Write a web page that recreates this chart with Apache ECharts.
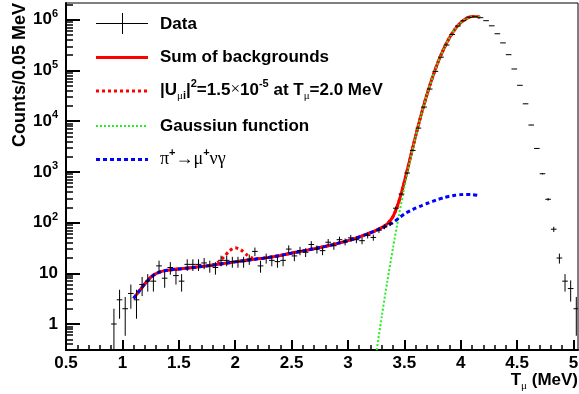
<!DOCTYPE html>
<html><head><meta charset="utf-8">
<script src="https://cdn.jsdelivr.net/npm/echarts@6/dist/echarts.min.js"></script>
<style>html,body{margin:0;padding:0;background:#fff}#c{width:579px;height:394px}</style>
</head><body><div id="c"></div>
<script>
// ---- data (counts per 0.05 MeV bin) ----
const binCenters = [0.925,0.975,1.025,1.075,1.125,1.175,1.225,1.275,1.325,1.375,1.425,1.475,1.525,1.575,1.625,1.675,1.725,1.775,1.825,1.875,1.925,1.975,2.025,2.075,2.125,2.175,2.225,2.275,2.325,2.375,2.425,2.475,2.525,2.575,2.625,2.675,2.725,2.775,2.825,2.875,2.925,2.975,3.025,3.075,3.125,3.175,3.225,3.275,3.325,3.375,3.425,3.475,3.525,3.575,3.625,3.675,3.725,3.775,3.825,3.875,3.925,3.975,4.025,4.075,4.125,4.175,4.225,4.275,4.325,4.375,4.425,4.475,4.525,4.575,4.625,4.675,4.725,4.775,4.825,4.875,4.925,4.975,5.025];
const counts = [1,3,2,4,3,6,7,7,14,8,13,9,7,15,15,15,16,14,13,18,18,17,17,17,19,27,14,20,18,17,18,30,22,28,26,37,30,28,41,35,46,42,50,46,44,56,51,71,83,95,192,365,950,2650,7300,19000,43000,96000,183000,318000,513000,754000,960000,1120000,1150000,1100000,960000,760000,530000,350000,205000,107000,51000,22000,8400,2900,920,288,74,20,7,5,2];

// ---- fitted curves ----
const curveX = [1.10,1.15,1.20,1.25,1.30,1.35,1.40,1.45,1.50,1.55,1.60,1.65,1.70,1.75,1.80,1.85,1.90,1.95,2.00,2.05,2.10,2.15,2.20,2.25,2.30,2.35,2.40,2.45,2.50,2.55,2.60,2.65,2.70,2.75,2.80,2.85,2.90,2.95,3.00,3.05,3.10,3.15,3.20,3.25,3.30,3.35,3.40,3.45,3.50,3.55,3.60,3.65,3.70,3.75,3.80,3.85,3.90,3.95,4.00,4.05,4.10,4.15,4.17];
const radiativeY = [3.2,4.5,6.2,8.3,9.9,10.9,11.5,11.9,12.2,12.5,12.8,13.2,13.6,14.0,14.5,15.0,15.6,16.2,16.8,17.4,18.0,18.6,19.3,19.9,20.6,21.5,22.5,23.7,25.0,26.2,27.5,29.0,30.5,32.2,34.0,36.0,38.5,41.0,44.0,47.5,52,57,63,70,78,88,100,122,148,170,192,214,238,262,287,310,330,346,356,360,357,346,340];
const sumBkgY = [3.2,4.5,6.2,8.3,9.9,10.9,11.5,11.9,12.2,12.5,12.8,13.2,13.6,14.0,14.5,15.0,15.6,16.2,16.8,17.4,18.0,18.6,19.3,19.9,20.6,21.5,22.5,23.7,25.0,26.2,27.5,29.0,30.5,32.2,34.0,36.0,38.5,41.0,44.0,47.5,52,57,63,70.3,79.4,95.1,132,254,635,1795,5092,13614,33238,73562,148287,268310,441330,654346,877356,1064360,1164357,1154346,1117340];
const withSignalY = [3.2,4.5,6.2,8.3,9.9,10.9,11.5,11.9,12.2,12.5,12.8,13.2,13.6,14.0,14.5,16.5,21.0,27.8,31.8,29.0,23.4,20.1,19.5,19.9,20.6,21.5,22.5,23.7,25.0,26.2,27.5,29.0,30.5,32.2,34.0,36.0,38.5,41.0,44.0,47.5,52,57,63,70.3,79.4,95.1,132,254,635,1795,5092,13614,33238,73562,148287,268310,441330,654346,877356,1064360,1164357,1154346,1117340];
const gaussX = [3.25,3.30,3.35,3.40,3.45,3.50,3.55,3.60,3.65,3.70,3.75,3.80,3.85,3.90,3.95,4.00,4.05,4.10,4.15,4.17];
const gaussY = [0.256,1.42,7.1,32.2,132,487,1625,4900,13400,33000,73300,148000,268000,441000,654000,877000,1064000,1164000,1154000,1117000];

// ---- axes ----
const xMajorTicks = [0.5,1,1.5,2,2.5,3,3.5,4,4.5,5];
const yDecadeLabels = ['1','10','10{sup|2}','10{sup|3}','10{sup|4}','10{sup|5}','10{sup|6}'];
const xRange = [0.5, 5.04];
const yLogRange = [-0.513, 6.331];

const yDecades = yDecadeLabels.map((_, i) => i);
const yMinor = [];
for (let n = -1; n <= 6; n++) for (let k = 2; k <= 9; k++) {
  const v = n + Math.log10(k);
  if (v >= yLogRange[0] && v <= yLogRange[1]) yMinor.push(v);
}
const xMinor = [];
for (let i = 6; i <= 50; i++) if (i % 5 !== 0) xMinor.push(i / 10);

const lg = v => Math.log10(v);
const pairs = (xs, ys) => xs.map((x, i) => [x, lg(ys[i])]);
const dataPts = binCenters.map((x, i) => {
  const n = counts[i], e = Math.sqrt(n);
  const lo = n - e > 0 ? lg(n - e) : yLogRange[0] - 1;
  return [x, lg(n), lo, lg(n + e)];
});

const SANS = '"Liberation Sans", Arial, Helvetica, sans-serif';
const SERIF = '"Liberation Serif", "Times New Roman", serif';
const chart = echarts.init(document.getElementById('c'), null, {renderer: 'canvas'});

const lineSeries = (name, xs, ys, color, width, type, z) => ({
  name, type: 'line', xAxisIndex: 0, yAxisIndex: 0, data: pairs(xs, ys),
  showSymbol: false, symbol: 'none', smooth: 0.25, clip: true, z,
  lineStyle: {color, width, type}, emphasis: {disabled: true}, silent: true, animation: false
});

chart.setOption({
  animation: false,
  backgroundColor: '#fff',
  grid: {left: 66, right: 1, top: 3, bottom: 44, containLabel: false, outerBoundsMode: 'none',
         show: true, borderColor: '#000', borderWidth: 1, backgroundColor: 'transparent'},
  xAxis: [
    {type: 'value', min: xRange[0], max: xRange[1], position: 'bottom',
     axisLine: {show: true, onZero: false, lineStyle: {color: '#000', width: 2}},
     axisTick: {show: true, inside: true, length: 10, customValues: xMajorTicks, lineStyle: {color: '#000', width: 2}},
     axisLabel: {show: true, customValues: xMajorTicks, margin: 5, color: '#000', fontSize: 17, fontWeight: 'bold', fontFamily: SANS,
                 formatter: v => String(v)},
     splitLine: {show: false}},
    {type: 'value', min: xRange[0], max: xRange[1], position: 'bottom',
     axisLine: {show: false, onZero: false},
     axisTick: {show: true, inside: true, length: 5, customValues: xMinor, lineStyle: {color: '#000', width: 1.5}},
     axisLabel: {show: false}, splitLine: {show: false}}
  ],
  yAxis: [
    {type: 'value', min: yLogRange[0], max: yLogRange[1], position: 'left',
     axisLine: {show: true, onZero: false, lineStyle: {color: '#000', width: 2}},
     axisTick: {show: true, inside: true, length: 14, customValues: yDecades, lineStyle: {color: '#000', width: 2}},
     axisLabel: {show: true, customValues: yDecades, margin: 8, color: '#000', fontSize: 17, fontWeight: 'bold', fontFamily: SANS,
                 formatter: v => yDecadeLabels[Math.round(v)],
                 rich: {sup: {fontSize: 11, fontWeight: 'bold', fontFamily: SANS, color: '#000', padding: [0, 0, 12, 0]}}},
     splitLine: {show: false}},
    {type: 'value', min: yLogRange[0], max: yLogRange[1], position: 'left',
     axisLine: {show: false, onZero: false},
     axisTick: {show: true, inside: true, length: 7, customValues: yMinor, lineStyle: {color: '#000', width: 1.5}},
     axisLabel: {show: false}, splitLine: {show: false}}
  ],
  series: [
    lineSeries('Sum of backgrounds', curveX, sumBkgY, '#ff0000', 3, 'solid', 2),
    lineSeries('Signal', curveX, withSignalY, '#ff0000', 3, [3, 3], 3),
    lineSeries('Gaussiun function', gaussX, gaussY, '#22ee22', 2, [2, 2], 4),
    lineSeries('pi->mu nu gamma', curveX, radiativeY, '#0000ff', 3, [4, 3], 5),
    {name: 'Data', type: 'custom', xAxisIndex: 0, yAxisIndex: 0, clip: true, z: 6, silent: true,
     data: dataPts, encode: {x: 0, y: 1},
     renderItem: (params, api) => {
       const x = api.value(0), y = api.value(1), lo = api.value(2), hi = api.value(3);
       const l = api.coord([x - 0.025, y]), r = api.coord([x + 0.025, y]);
       const t = api.coord([x, hi]), b = api.coord([x, lo]);
       const st = {stroke: '#000', lineWidth: 1};
       return {type: 'group', children: [
         {type: 'line', shape: {x1: l[0], y1: l[1], x2: r[0], y2: r[1]}, style: st},
         {type: 'line', shape: {x1: t[0], y1: t[1], x2: b[0], y2: b[1]}, style: st}
       ]};
     }}
  ],
  graphic: [
    // legend
    {type: 'line', shape: {x1: 96, y1: 23.5, x2: 148, y2: 23.5}, style: {stroke: '#000', lineWidth: 1}},
    {type: 'line', shape: {x1: 122.5, y1: 13, x2: 122.5, y2: 34}, style: {stroke: '#000', lineWidth: 1}},
    {type: 'text', x: 160, y: 24, style: {text: 'Data', fill: '#000', font: 'bold 17px ' + SANS, verticalAlign: 'middle'}},
    {type: 'line', shape: {x1: 96, y1: 57.5, x2: 148, y2: 57.5}, style: {stroke: '#ff0000', lineWidth: 3}},
    {type: 'text', x: 160, y: 57.5, style: {text: 'Sum of backgrounds', fill: '#000', font: 'bold 17px ' + SANS, verticalAlign: 'middle'}},
    {type: 'line', shape: {x1: 96, y1: 91, x2: 148, y2: 91}, style: {stroke: '#ff0000', lineWidth: 3, lineDash: [3, 3]}},
    {type: 'text', x: 160, y: 90, style: {
      text: '|U{subg|μ}{subb|i}|{sup|2}=1.5{reg|×}10{sup|-5} at T{subg|μ}=2.0 MeV',
      fill: '#000', fontSize: 17, fontWeight: 'bold', fontFamily: SANS, verticalAlign: 'middle',
      rich: {
        subg: {fontSize: 11, fontWeight: 'normal', fontFamily: SERIF, fill: '#000', padding: [12, 0, 0, 0]},
        subb: {fontSize: 11, fontWeight: 'bold', fontFamily: SANS, fill: '#000', padding: [12, 0, 0, 0]},
        sup: {fontSize: 11, fontWeight: 'bold', fontFamily: SANS, fill: '#000', padding: [0, 0, 12, 0]},
        reg: {fontSize: 17, fontWeight: 'normal', fontFamily: SERIF, fill: '#000'}
      }}},
    {type: 'line', shape: {x1: 96, y1: 126, x2: 148, y2: 126}, style: {stroke: '#22ee22', lineWidth: 2, lineDash: [2, 2]}},
    {type: 'text', x: 160, y: 126, style: {text: 'Gaussiun function', fill: '#000', font: 'bold 17px ' + SANS, verticalAlign: 'middle'}},
    {type: 'line', shape: {x1: 96, y1: 159.5, x2: 148, y2: 159.5}, style: {stroke: '#0000ff', lineWidth: 3, lineDash: [4, 3]}},
    {type: 'text', x: 160, y: 159, style: {
      text: 'π{sup|+}→μ{sup|+}νγ', fill: '#000', fontSize: 18, fontWeight: 'normal', fontFamily: SERIF, verticalAlign: 'middle',
      rich: {sup: {fontSize: 11, fontWeight: 'bold', fontFamily: SANS, fill: '#000', padding: [0, 0, 12, 0]}}}},
    // axis titles
    {type: 'text', x: 578, y: 380, style: {
      text: 'T{sub|μ} (MeV)', fill: '#000', fontSize: 17, fontWeight: 'bold', fontFamily: SANS, align: 'right', verticalAlign: 'middle',
      rich: {sub: {fontSize: 11, fontWeight: 'normal', fontFamily: SERIF, fill: '#000', padding: [12, 0, 0, 0]}}}},
    {type: 'text', x: 20, y: 3, rotation: Math.PI / 2, style: {
      text: 'Counts/0.05 MeV', fill: '#000', font: 'bold 18px ' + SANS, align: 'right', verticalAlign: 'middle'}}
  ]
});
</script></body></html>
